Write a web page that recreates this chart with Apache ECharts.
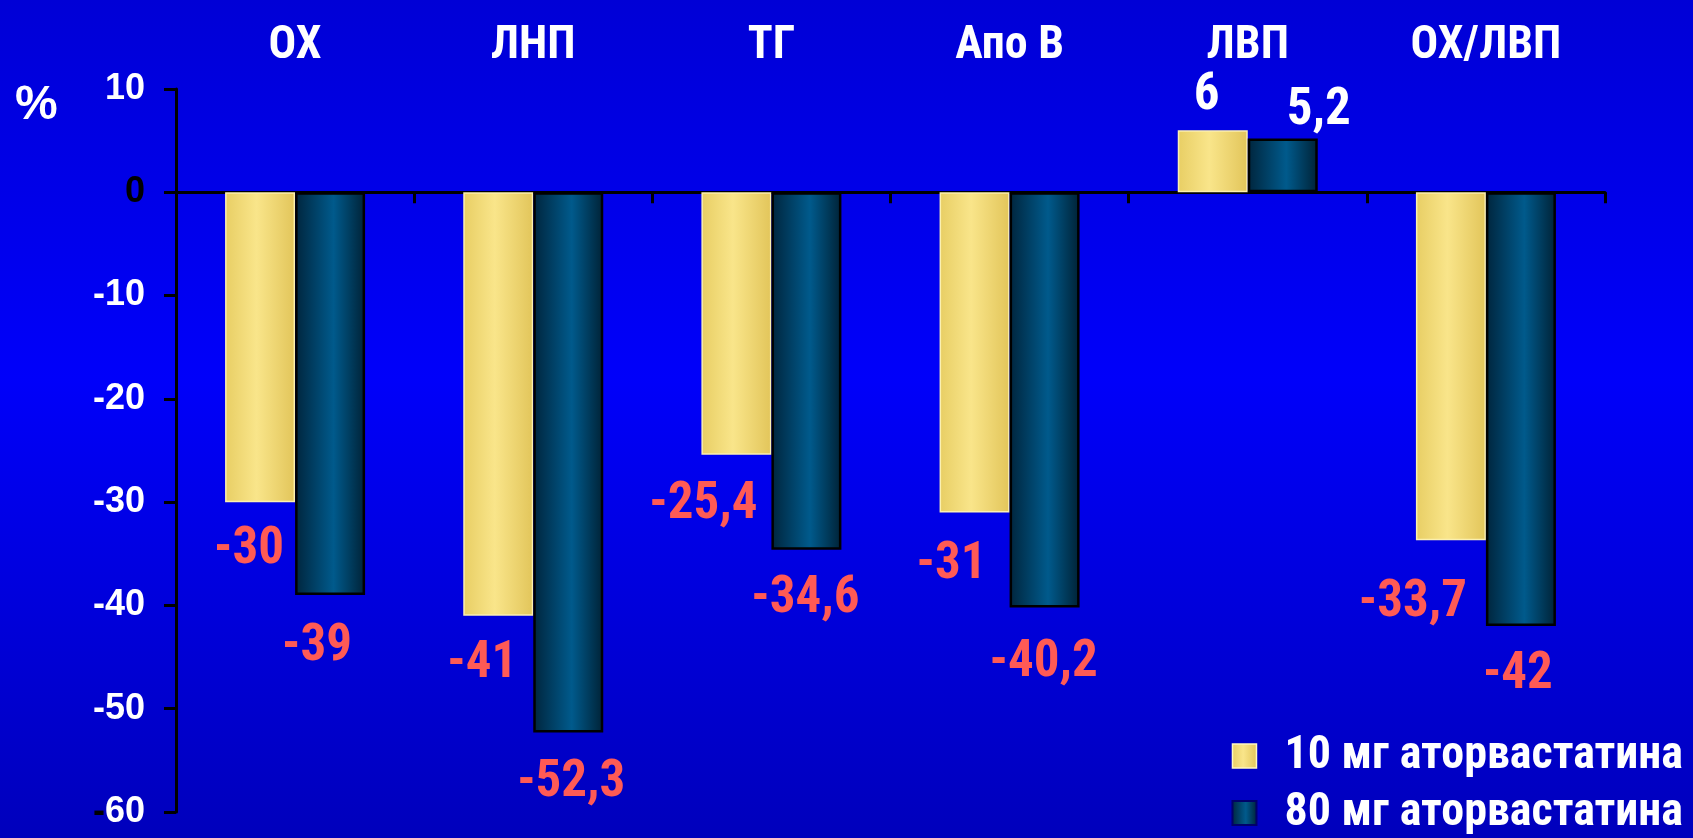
<!DOCTYPE html>
<html>
<head>
<meta charset="utf-8">
<script src="https://cdn.jsdelivr.net/npm/echarts@6/dist/echarts.min.js"></script>
<style>
html,body{margin:0;padding:0;width:1693px;height:838px;overflow:hidden;}
#chart{width:1693px;height:838px;}
</style>
</head>
<body>
<div id="chart"></div>
<script>
const categories = ['ОХ', 'ЛНП', 'ТГ', 'Апо В', 'ЛВП', 'ОХ/ЛВП'];
const seriesNames = ['10 мг аторвастатина', '80 мг аторвастатина'];
const values10 = [-30, -41, -25.4, -31, 6, -33.7];
const values80 = [-39, -52.3, -34.6, -40.2, 5.2, -42];
const yTicks = { min: -60, max: 10, interval: 10 };

// label nudges (pixels) to mimic the hand-placed labels of the original slide
const offsets10 = [[-11, 23], [-16, 23], [-33, 25], [-23, 27], [-6, -9], [-38, 37]];
const offsets80 = [[-13, 27], [3, 25], [-1, 24], [-1, 30], [36, -2], [-3, 24]];

const NARROW = '"Roboto Condensed", "Liberation Sans Narrow", "Arial Narrow", sans-serif';
const SANS = '"Liberation Sans", Arial, sans-serif';

const fmt = v => String(v).replace('.', ',');

const yellowGrad = {
  type: 'linear', x: 0, y: 0, x2: 1, y2: 0,
  colorStops: [
    { offset: 0, color: '#e8ce64' },
    { offset: 0.45, color: '#f9e58a' },
    { offset: 1, color: '#e2c55a' }
  ]
};
const tealGrad = {
  type: 'linear', x: 0, y: 0, x2: 1, y2: 0,
  colorStops: [
    { offset: 0, color: '#00253d' },
    { offset: 0.55, color: '#005a8c' },
    { offset: 1, color: '#002236' }
  ]
};

function makeData(vals, offs, negColor, posColor) {
  return vals.map((v, i) => ({
    value: v,
    label: {
      offset: offs[i],
      color: v < 0 ? negColor : posColor
    }
  }));
}

const chart = echarts.init(document.getElementById('chart'), null, { renderer: 'canvas' });

chart.setOption({
  animation: false,
  backgroundColor: {
    type: 'linear', x: 0, y: 0, x2: 0, y2: 1,
    colorStops: [
      { offset: 0, color: '#0000d6' },
      { offset: 0.45, color: '#0000fa' },
      { offset: 1, color: '#0000bc' }
    ]
  },
  title: {
    text: '%',
    left: 10,
    top: 77,
    textStyle: { color: '#ffffff', fontSize: 48, fontWeight: 'bold', fontFamily: SANS }
  },
  legend: {
    orient: 'vertical',
    right: 10,
    top: 733,
    padding: 0,
    itemWidth: 24,
    itemHeight: 24,
    itemGap: 11,
    icon: 'rect',
    textStyle: {
      color: '#ffffff', fontSize: 46, fontWeight: 'bold', fontFamily: NARROW,
      padding: [0, 0, 0, 23]
    },
    data: [
      { name: seriesNames[0], itemStyle: { borderColor: '#fff8c0', borderWidth: 1.5 } },
      { name: seriesNames[1], itemStyle: { borderColor: '#00006a', borderWidth: 2 } }
    ]
  },
  grid: { left: 176, right: 88, top: 89, bottom: 26, containLabel: false },
  xAxis: [
    {
      type: 'category',
      data: categories,
      axisLine: { onZero: true, lineStyle: { color: '#000000', width: 3 } },
      axisTick: { show: true, interval: 0, length: 11, lineStyle: { color: '#000000', width: 3 } },
      axisLabel: { show: false },
      splitLine: { show: false }
    },
    {
      type: 'category',
      position: 'top',
      data: categories,
      axisLine: { show: false },
      axisTick: { show: false },
      axisLabel: {
        show: true, interval: 0, margin: 20,
        color: '#ffffff', fontSize: 46, fontWeight: 'bold', fontFamily: NARROW
      }
    }
  ],
  yAxis: {
    type: 'value',
    min: yTicks.min,
    max: yTicks.max,
    interval: yTicks.interval,
    axisLine: { show: true, lineStyle: { color: '#000000', width: 3 } },
    axisTick: { show: true, length: 12, lineStyle: { color: '#000000', width: 3 } },
    splitLine: { show: false },
    axisLabel: {
      margin: 31,
      fontSize: 36, fontWeight: 'bold', fontFamily: SANS, color: '#ffffff',
      formatter: function (v) {
        if (v === 0) return '{k|0}';
        if (v === yTicks.min) return '{k|-}{w|' + Math.abs(v) + '}';
        return '{w|' + v + '}';
      },
      rich: {
        k: { color: '#000000', fontSize: 36, fontWeight: 'bold', fontFamily: SANS },
        w: { color: '#ffffff', fontSize: 36, fontWeight: 'bold', fontFamily: SANS }
      }
    }
  },
  series: [
    {
      name: seriesNames[0],
      type: 'bar',
      barWidth: 70,
      barGap: '0%',
      itemStyle: { color: yellowGrad, borderColor: '#fbf0b0', borderWidth: 1.5 },
      label: {
        show: true, position: 'outside', distance: 0,
        fontSize: 51, fontWeight: 'bold', fontFamily: NARROW,
        formatter: p => fmt(p.value)
      },
      data: makeData(values10, offsets10, '#ff5a55', '#ffffff')
    },
    {
      name: seriesNames[1],
      type: 'bar',
      barWidth: 70,
      barGap: '0%',
      itemStyle: { color: tealGrad, borderColor: '#000000', borderWidth: 2.5 },
      label: {
        show: true, position: 'outside', distance: 0,
        fontSize: 51, fontWeight: 'bold', fontFamily: NARROW,
        formatter: p => fmt(p.value)
      },
      data: makeData(values80, offsets80, '#ff5a55', '#ffffff')
    }
  ]
});
</script>
</body>
</html>
